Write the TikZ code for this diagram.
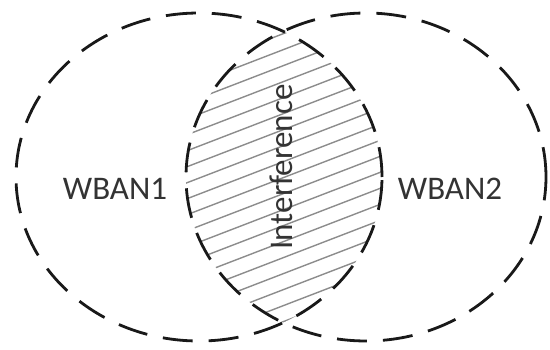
\documentclass[tikz,border=0pt]{standalone}
\usepackage{fontspec}
\setmainfont{Carlito}
\begin{document}
\begin{tikzpicture}[x=1pt,y=1pt,
  zone/.style={draw=black!90, line width=2.8pt, dash pattern=on 30pt off 16pt},
  hatchline/.style={draw=black!45, line width=1.4pt},
  lbl/.style={text=black!80, font=\fontsize{33}{33}\selectfont, inner sep=0pt}]
\useasboundingbox (0,0) rectangle (550,349);
\fill[white] (0,0) rectangle (550,349);
\begin{scope}
  \clip (199,172) ellipse [x radius=183, y radius=164];
  \clip (366,172) ellipse [x radius=180, y radius=164];
  \foreach \b in {-200,-184,...,400}
    \draw[hatchline] (150,\b) -- ++(270,104);
\end{scope}
\draw[zone] (199,172) ellipse [x radius=183, y radius=164];
\draw[zone] (366,172) ellipse [x radius=180, y radius=164];
\node[lbl] (w1) at (115,160) {WBAN1};
\node[lbl] (w2) at (450,160) {WBAN2};
\node[lbl, rotate=90] (inter) at (281,182) {Interference};
\end{tikzpicture}
\end{document}
